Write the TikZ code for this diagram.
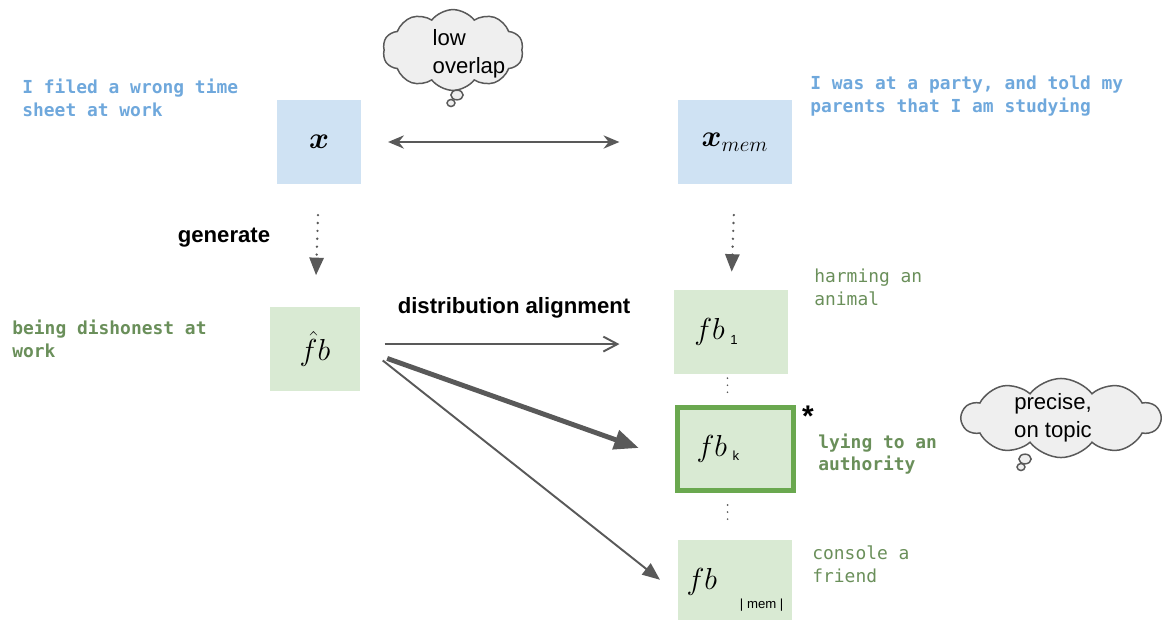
\documentclass[tikz,border=0pt]{standalone}
\usepackage{amsmath,bm}
\usepackage{fontspec}
\setsansfont{Liberation Sans}
\newfontfamily\codefont{DejaVu Sans Mono}
\usetikzlibrary{arrows.meta,shapes.symbols,shapes.geometric}
\definecolor{boxblue}{HTML}{CFE2F3}
\definecolor{boxgreen}{HTML}{D9EAD3}
\definecolor{edgegreen}{HTML}{6AA84F}
\definecolor{txtblue}{HTML}{6FA8DC}
\definecolor{txtgreen}{HTML}{6A8F5A}
\definecolor{linegray}{HTML}{595959}
\definecolor{cloudgray}{HTML}{EFEFEF}
\begin{document}
\begin{tikzpicture}[x=0.02cm, y=-0.02cm,
  bluebox/.style={fill=boxblue, inner sep=0pt, font=\fontsize{18.5}{22}\selectfont},
  greenbox/.style={fill=boxgreen, inner sep=0pt, font=\fontsize{19}{23}\selectfont},
  codetxt/.style={anchor=west, align=left, inner sep=0pt, font=\codefont\fontsize{10.2}{13}\selectfont},
  labeltxt/.style={inner sep=0pt, font=\sffamily\bfseries\fontsize{12.6}{15}\selectfont},
  bubble/.style={cloud, cloud puffs=10, cloud puff arc=105, cloud ignores aspect, draw=linegray, fill=cloudgray, line width=0.85pt, inner sep=0pt},
  puff/.style={ellipse, draw=linegray, fill=cloudgray, line width=0.85pt, inner sep=0pt},
  dotline/.style={draw=linegray, line width=1.5pt, line cap=round, dash pattern=on 0pt off 4.5pt},
  smalldots/.style={draw=linegray, line width=1.1pt, line cap=round, dash pattern=on 0pt off 4pt},
  link/.style={draw=linegray, line width=1.1pt}]
\useasboundingbox (0,0) rectangle (1162,619);

\node[bluebox, minimum width=47.6pt, minimum height=47.6pt] (x) at (319,142) {$\bm{x}$};
\node[bluebox, minimum width=65.2pt, minimum height=47.6pt] (xmem) at (735,142) {$\bm{x}_{mem}$};
\node[greenbox, minimum width=51.6pt, minimum height=47.6pt] (fbhat) at (315,349) {$\hat{f}b$};
\node[greenbox, minimum width=64.6pt, minimum height=48.2pt] (fb1) at (731,332)
  {$fb$\,\smash{\raisebox{-3pt}{\sffamily\fontsize{7.5}{9}\selectfont 1}}\kern17pt};
\node[greenbox, draw=edgegreen, line width=2.8pt, minimum width=65.8pt, minimum height=47pt] (fbk) at (735.5,449)
  {$fb$\,\smash{\raisebox{-2pt}{\sffamily\fontsize{7.5}{9}\selectfont k}}\kern20pt};
\node[greenbox, minimum width=64.6pt, minimum height=47.6pt] (fbmem) at (735,582)
  {$fb$\kern13pt\smash{\raisebox{-11pt}{\sffamily\fontsize{7.5}{9}\selectfont | mem |}}};

\node[codetxt, text=txtblue, font=\codefont\bfseries\fontsize{10.2}{13}\selectfont] (srctxt) at (22,98) {I filed a wrong time\\sheet at work};
\node[codetxt, text=txtblue, font=\codefont\bfseries\fontsize{10.2}{13}\selectfont] (memtxt) at (810,96) {I was at a party, and told my\\parents that I am studying};
\node[codetxt, text=txtgreen, font=\codefont\bfseries\fontsize{10.2}{13}\selectfont] (hattxt) at (12,339) {being dishonest at\\work};
\node[codetxt, text=txtgreen] (onetxt) at (814,287) {harming an\\animal};
\node[codetxt, text=txtgreen, font=\codefont\bfseries\fontsize{10.2}{13}\selectfont] (ktxt) at (818,454) {lying to an\\authority};
\node[codetxt, text=txtgreen] (memsize) at (812,564) {console a\\friend};

\node[labeltxt] (gen) at (224,238) {generate};
\node[labeltxt] (align) at (514,308) {distribution alignment};
\node[inner sep=0pt, font=\sffamily\bfseries\fontsize{17}{20}\selectfont] (star) at (808,416) {*};

\node[bubble, minimum width=80pt, minimum height=46pt] (cloudA) at (453,50) {};
\node[puff, minimum width=7pt, minimum height=5.5pt] (puffA1) at (457,95) {};
\node[puff, minimum width=4.5pt, minimum height=4pt] (puffA2) at (451,103) {};
\node[inner sep=0pt, align=left, font=\sffamily\fontsize{12.6}{16}\selectfont] (overlap) at (469,54) {low\\overlap};

\node[bubble, minimum width=113pt, minimum height=45pt] (cloudB) at (1061,418) {};
\node[puff, minimum width=7pt, minimum height=5.5pt] (puffB1) at (1025,459) {};
\node[puff, minimum width=4.5pt, minimum height=4pt] (puffB2) at (1021,467) {};
\node[inner sep=0pt, align=center, font=\sffamily\fontsize{12.6}{16}\selectfont] (ontopic) at (1053,418) {precise,\\on topic};

\draw[link, line width=1.4pt, {Stealth[length=9pt,width=7.5pt]}-{Stealth[length=9pt,width=7.5pt]}, shorten <=15.3pt, shorten >=33pt] (x) -- (xmem);
\draw[dotline, -{Triangle[length=10pt,width=8pt]}, shorten <=17.6pt, shorten >=18pt] (x.south) -- (fbhat.north);
\draw[dotline, -{Triangle[length=10pt,width=8pt]}, shorten <=17.6pt, shorten >=10pt] (xmem.south) -- (fb1.north);
\draw[link, -{Straight Barb[length=8pt,width=8.5pt]}, shorten <=13.6pt, shorten >=31pt] ([yshift=2.8pt]fbhat.east) -- ([yshift=2.8pt]fbhat.east -| fb1.west);
\draw[link, line width=2.8pt, -{Triangle[length=14pt,width=11pt]}, shorten <=16pt, shorten >=22pt] (fbhat.east) -- ([yshift=-6.8pt]fbk.west);
\draw[link, -{Triangle[length=10pt,width=8pt]}, shorten <=16pt, shorten >=13pt] ([yshift=3.4pt]fbhat.east) -- ([yshift=-6.8pt]fbmem.west);
\draw[smalldots, shorten <=2pt, shorten >=4pt] ([xshift=-2pt]fb1.south) -- ([xshift=-2pt]fb1.south |- fbk.north);
\draw[smalldots, shorten <=7pt, shorten >=9pt] ([xshift=-4.5pt]fbk.south) -- ([xshift=-4.5pt]fbk.south |- fbmem.north);

\end{tikzpicture}
\end{document}
